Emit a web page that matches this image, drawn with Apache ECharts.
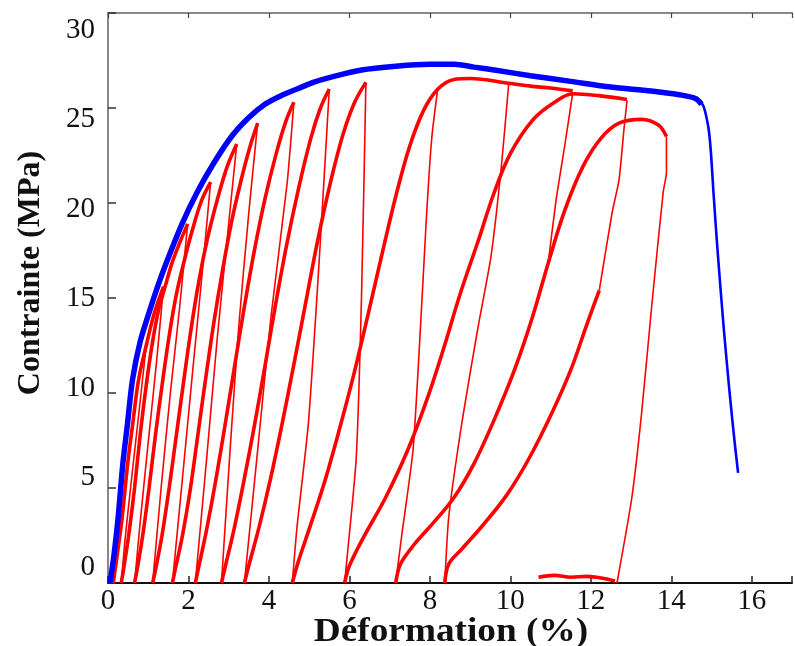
<!DOCTYPE html>
<html><head><meta charset="utf-8">
<script src="https://cdn.jsdelivr.net/npm/echarts@6/dist/echarts.min.js"></script>
<style>html,body{margin:0;padding:0;background:#fff}#c{width:795px;height:646px}</style>
</head><body><div id="c"></div>
<script>
const xTickLabels = ['0','2','4','6','8','10','12','14','16'];
const yTickLabels = ['0','5','10','15','20','25','30'];
const xTitle = 'Déformation (%)';
const yTitle = 'Contrainte (MPa)';

// monotonic test (blue): hardening/plateau part and final drop
const envelopeBlue = [[0.05,0],[0.15,1.5],[0.25,3.4],[0.37,6.3],[0.48,8.3],[0.61,10.7],[0.8,12.7],[1.03,14.3],[1.25,15.7],[1.44,16.8],[1.84,18.9],[2.2,20.5],[2.6,22.0],[3.07,23.5],[3.5,24.5],[3.9,25.2],[4.3,25.65],[4.7,26.0],[5.1,26.35],[5.5,26.6],[6.3,27.0],[7.15,27.2],[8.0,27.3],[8.6,27.3],[9.1,27.15],[9.6,27.0],[10.5,26.7],[11.5,26.4],[12.5,26.1],[13.5,25.9],[14.2,25.7],[14.6,25.5],[14.75,25.2]];
const ruptureBlue = [[14.7,25.35],[14.8,25.1],[14.92,24.0],[14.98,22.8],[15.05,20.5],[15.15,17.5],[15.3,13.5],[15.45,10.0],[15.57,7.5],[15.66,5.8]];

// cyclic test (red) - loading branches (thick)
const load0 = [[0.13,0],[0.23,1.5],[0.35,3.4],[0.49,6.3],[0.61,8.3],[0.76,10.7],[0.95,12.5],[1.15,14.2],[1.38,15.6]];
const load1 = [[0.33,0],[0.40,0.9],[0.52,2.6],[0.66,5.0],[0.80,7.8],[0.95,10.4],[1.10,12.6],[1.25,14.3],[1.42,15.6],[1.60,16.9],[1.80,18.0],[1.98,18.9]];
const load2 = [[0.66,0],[0.74,0.9],[0.87,2.6],[1.02,5.0],[1.18,7.8],[1.35,10.5],[1.52,13.0],[1.70,15.2],[1.90,17.0],[2.10,18.6],[2.32,20.1],[2.55,21.1]];
const load3 = [[1.11,0],[1.20,0.9],[1.35,2.6],[1.52,5.0],[1.70,7.8],[1.88,10.6],[2.06,13.3],[2.26,15.9],[2.48,18.2],[2.72,20.2],[2.96,21.9],[3.2,23.1]];
const load4 = [[1.6,0],[1.69,0.9],[1.86,2.6],[2.05,5.0],[2.24,7.9],[2.43,10.8],[2.63,13.7],[2.85,16.5],[3.08,19.1],[3.32,21.3],[3.52,22.9],[3.72,24.2]];
const load5 = [[2.17,0],[2.27,1.0],[2.45,2.8],[2.67,5.3],[2.90,8.2],[3.13,11.2],[3.37,14.3],[3.62,17.3],[3.90,20.2],[4.18,22.6],[4.42,24.3],[4.62,25.3]];
const load6 = [[2.82,0],[2.93,1.0],[3.14,2.9],[3.38,5.4],[3.64,8.3],[3.90,11.4],[4.16,14.6],[4.44,17.8],[4.74,20.8],[5.04,23.4],[5.28,25.0],[5.5,26.0]];
const load7 = [[3.39,0],[3.51,1.0],[3.75,2.9],[4.03,5.4],[4.32,8.3],[4.61,11.4],[4.90,14.6],[5.20,17.9],[5.52,21.0],[5.84,23.6],[6.13,25.3],[6.41,26.35]];
const load8 = [[4.58,0],[4.72,1.06],[5.01,2.9],[5.38,5.3],[5.74,8.0],[6.10,10.9],[6.46,14.1],[6.82,17.4],[7.17,20.5],[7.5,23.0],[7.85,24.9],[8.2,26.0],[8.6,26.5],[9.0,26.55],[9.96,26.3],[10.5,26.15],[11.0,26.05],[11.55,25.9]];
const load9 = [[5.88,0],[6.0,0.9],[6.35,2.4],[6.9,4.5],[7.45,7.0],[7.95,9.8],[8.35,12.4],[8.75,15.2],[9.2,18.0],[9.59,20.5],[10.0,22.6],[10.57,24.4],[11.1,25.3],[11.55,25.75],[12.2,25.65],[12.9,25.45]];
const load10 = [[7.15,0],[7.27,1.0],[7.6,2.0],[8.1,3.2],[8.6,4.5],[9.1,6.3],[9.6,8.6],[10.1,11.2],[10.55,14.0],[10.95,16.9],[11.35,19.6],[11.8,21.9],[12.25,23.4],[12.7,24.2],[13.26,24.4],[13.68,24.1],[13.88,23.5]];
const load11 = [[8.37,0],[8.47,1.0],[8.8,1.8],[9.3,3.0],[9.9,4.6],[10.45,6.5],[11.0,8.8],[11.5,11.2],[11.9,13.6],[12.21,15.4]];
const recoveryAtZero = [[10.7,0.3],[11.1,0.4],[11.5,0.3],[11.9,0.35],[12.3,0.25],[12.6,0.1]];

// unloading branches (thin)
const unload1 = [[0.95,12.5],[0.77,9],[0.56,5],[0.42,2.2],[0.33,0]];
const unload2 = [[1.38,15.6],[1.2,11.5],[0.98,7],[0.8,3.2],[0.66,0]];
const unload3 = [[1.98,18.9],[1.78,14.5],[1.55,10],[1.32,5],[1.11,0]];
const unload4 = [[2.55,21.1],[2.35,16.5],[2.12,11.5],[1.85,5.5],[1.6,0]];
const unload5 = [[3.2,23.1],[2.98,18.5],[2.72,13],[2.45,6.5],[2.17,0]];
const unload6 = [[3.72,24.2],[3.5,19.5],[3.25,13.5],[3.05,7.5],[2.82,0]];
const unload7 = [[4.62,25.3],[4.45,21],[4.05,14],[3.72,7],[3.39,0]];
const unload8 = [[5.5,26.0],[5.25,17],[4.98,8.4],[4.7,3],[4.58,0]];
const unload9 = [[6.41,26.35],[6.3,15],[6.17,6.6],[5.95,1.5],[5.88,0]];
const unload10 = [[8.2,26.1],[8.05,23.5],[7.93,19.8],[7.59,7.2],[7.3,2.5],[7.15,0]];
const unload11 = [[9.96,26.3],[9.78,22],[9.52,17.2],[9.2,13.5],[8.8,8.5],[8.47,3.5],[8.37,0]];
const unload12 = [[11.55,25.8],[11.35,23],[11.14,20.2],[10.95,17.0]];
const unload13 = [[12.21,15.4],[12.53,19.5],[12.7,21.2],[12.82,23.8],[12.9,25.4]];
const unload14 = [[13.88,23.5],[13.88,21.6],[13.8,20.6],[13.51,14.5],[13.26,8.9],[13.02,4.5],[12.65,0]];

const thickCurves = [load0,load1,load2,load3,load4,load5,load6,load7,load8,load9,load10,load11,recoveryAtZero];
const thinCurves = [unload1,unload2,unload3,unload4,unload5,unload6,unload7,unload8,unload9,unload10,unload11,unload12,unload13,unload14];

const RED = '#ff0000', BLUE = '#0000ff';
const series = [];
thinCurves.forEach(d => series.push({type:'line', data:d, showSymbol:false, smooth:0.2, lineStyle:{color:RED, width:1.6}, silent:true}));
thickCurves.forEach(d => series.push({type:'line', data:d, showSymbol:false, smooth:0.35, lineStyle:{color:RED, width:3.6}, silent:true}));
series.push({type:'line', data:envelopeBlue, showSymbol:false, smooth:0.3, lineStyle:{color:BLUE, width:5.5}, silent:true});
series.push({type:'line', data:ruptureBlue, showSymbol:false, smooth:0.3, lineStyle:{color:BLUE, width:2.6}, silent:true});

const serif = '"Liberation Serif", "DejaVu Serif", serif';
const chart = echarts.init(document.getElementById('c'));
chart.setOption({
  animation:false,
  backgroundColor:'#fff',
  grid:[{left:108, top:13, width:694.6, height:570}, {left:108, top:30, width:694.6, height:537}],
  xAxis:[
    {gridIndex:0, type:'value', min:0, max:17, interval:2, position:'bottom',
     axisLine:{show:true, onZero:false, lineStyle:{color:'#111', width:2}},
     axisTick:{inside:true, length:7, lineStyle:{color:'#222', width:1.5}},
     axisLabel:{margin:4, fontFamily:serif, fontSize:29, color:'#111', formatter:v => xTickLabels[Math.round(v/2)] ?? ''},
     splitLine:{show:false}},
    {gridIndex:0, type:'value', min:0, max:17, interval:2, position:'top',
     axisLine:{show:true, onZero:false, lineStyle:{color:'#888', width:2}},
     axisTick:{inside:true, length:5, lineStyle:{color:'#444', width:1.2}},
     axisLabel:{show:false}, splitLine:{show:false}},
    {gridIndex:1, type:'value', min:0, max:17, show:false}
  ],
  yAxis:[
    {gridIndex:0, type:'value', min:0, max:30, interval:5,
     axisLine:{show:true, onZero:false, lineStyle:{color:'#888', width:2}},
     axisTick:{show:true, inside:true, length:8, lineStyle:{color:'#333', width:1.5}},
     axisLabel:{show:false}, splitLine:{show:false}},
    {gridIndex:1, type:'value', min:0, max:30, interval:5,
     axisLine:{show:false}, axisTick:{show:false}, splitLine:{show:false},
     axisLabel:{margin:13, fontFamily:serif, fontSize:29, color:'#111', formatter:v => yTickLabels[Math.round(v/5)] ?? ''}}
  ],
  graphic:[
    {type:'text', x:451, y:632, scaleX:1.13, style:{text:xTitle, font:'bold 33px "Liberation Serif"', fill:'#111', align:'center', verticalAlign:'middle'}},
    {type:'text', x:31, y:273, rotation:Math.PI/2, style:{text:yTitle, font:'bold 32px "Liberation Serif"', fill:'#111', align:'center', verticalAlign:'middle'}}
  ],
  series: series
});
</script></body></html>
